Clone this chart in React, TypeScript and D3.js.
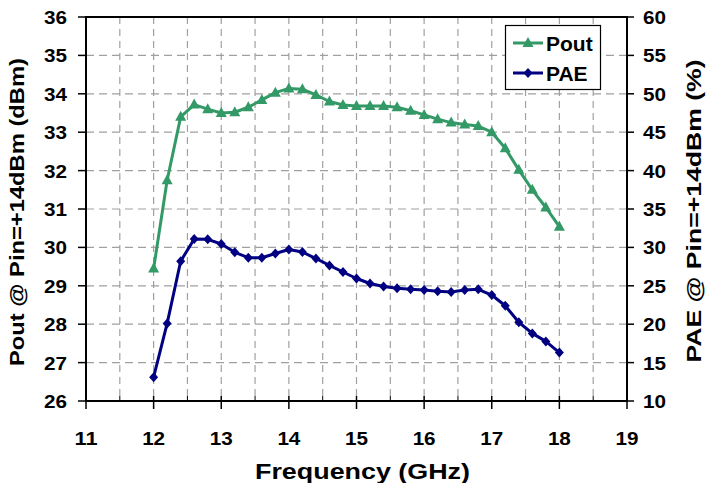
import { useEffect, useRef } from 'react';
import * as d3 from 'd3';

// frequency points (GHz)
const freq = [12, 12.2, 12.4, 12.6, 12.8, 13, 13.2, 13.4, 13.6, 13.8, 14, 14.2, 14.4, 14.6, 14.8, 15,
  15.2, 15.4, 15.6, 15.8, 16, 16.2, 16.4, 16.6, 16.8, 17, 17.2, 17.4, 17.6, 17.8, 18];

// Pout @ Pin=+14dBm (dBm)
const pout = [29.45, 31.75, 33.4, 33.72, 33.6, 33.5, 33.52, 33.65, 33.84, 34.03, 34.14, 34.12, 33.97,
  33.8, 33.71, 33.68, 33.68, 33.68, 33.65, 33.56, 33.45, 33.34, 33.25, 33.2, 33.16, 33.0, 32.58,
  32.02, 31.5, 31.04, 30.54];

// PAE @ Pin=+14dBm (%)
const pae = [13.1, 20.1, 28.2, 31.1, 31.05, 30.44, 29.36, 28.66, 28.66, 29.2, 29.72, 29.4, 28.55,
  27.65, 26.8, 25.95, 25.3, 24.9, 24.67, 24.54, 24.45, 24.3, 24.2, 24.45, 24.54, 23.8, 22.4, 20.25,
  18.8, 17.76, 16.3];

const xTicks = [11, 12, 13, 14, 15, 16, 17, 18, 19];
const xGrid = [11.5, 12.5, 13.5, 14.5, 15.5, 16.5, 17.5, 18.5];
const leftTicks = [26, 27, 28, 29, 30, 31, 32, 33, 34, 35, 36];
const rightTicks = [10, 15, 20, 25, 30, 35, 40, 45, 50, 55, 60];

const GREEN = '#339966';
const NAVY = '#000080';
const FONT = '"Liberation Sans", Arial, sans-serif';

const App = () => {
  const svgRef = useRef(null);

  useEffect(() => {
    const plot = { left: 86, right: 627, top: 17, bottom: 401 };

    const svg = d3.select(svgRef.current);
    svg.selectAll('*').remove();

    const x = d3.scaleLinear().domain([11, 19]).range([plot.left, plot.right]);
    const yL = d3.scaleLinear().domain([26, 36]).range([plot.bottom, plot.top]);
    const yR = d3.scaleLinear().domain([10, 60]).range([plot.bottom, plot.top]);

    // grid
    const grid = svg.append('g');
    grid.selectAll('line.vg')
      .data(xGrid.concat(xTicks.slice(1, -1)))
      .enter()
      .append('line')
      .attr('x1', (d) => x(d))
      .attr('x2', (d) => x(d))
      .attr('y1', plot.top)
      .attr('y2', plot.bottom)
      .attr('stroke', '#a0a0a0')
      .attr('stroke-width', 1.2)
      .attr('stroke-dasharray', '7,5');
    grid.selectAll('line.hg')
      .data(leftTicks.slice(1, -1))
      .enter()
      .append('line')
      .attr('x1', plot.left)
      .attr('x2', plot.right)
      .attr('y1', (d) => yL(d))
      .attr('y2', (d) => yL(d))
      .attr('stroke', '#a0a0a0')
      .attr('stroke-width', 1.2)
      .attr('stroke-dasharray', '8,5');

    // frame
    svg.append('rect')
      .attr('x', plot.left)
      .attr('y', plot.top)
      .attr('width', plot.right - plot.left)
      .attr('height', plot.bottom - plot.top)
      .attr('fill', 'none')
      .attr('stroke', '#000')
      .attr('stroke-width', 2);

    // left axis
    const left = svg.append('g');
    left.selectAll('line')
      .data(leftTicks)
      .enter()
      .append('line')
      .attr('x1', plot.left - 8)
      .attr('x2', plot.left)
      .attr('y1', (d) => yL(d))
      .attr('y2', (d) => yL(d))
      .attr('stroke', '#000')
      .attr('stroke-width', 1.5);
    left.selectAll('text')
      .data(leftTicks)
      .enter()
      .append('text')
      .attr('x', 67)
      .attr('y', (d) => yL(d) + 7)
      .attr('text-anchor', 'end')
      .attr('textLength', 23)
      .attr('lengthAdjust', 'spacingAndGlyphs')
      .text((d) => d);

    // right axis
    const right = svg.append('g');
    right.selectAll('line')
      .data(rightTicks)
      .enter()
      .append('line')
      .attr('x1', plot.right)
      .attr('x2', plot.right + 7)
      .attr('y1', (d) => yR(d))
      .attr('y2', (d) => yR(d))
      .attr('stroke', '#000')
      .attr('stroke-width', 1.5);
    right.selectAll('text')
      .data(rightTicks)
      .enter()
      .append('text')
      .attr('x', 643)
      .attr('y', (d) => yR(d) + 7)
      .attr('text-anchor', 'start')
      .attr('textLength', 23)
      .attr('lengthAdjust', 'spacingAndGlyphs')
      .text((d) => d);

    // x axis
    const bottom = svg.append('g');
    bottom.selectAll('line.major')
      .data(xTicks)
      .enter()
      .append('line')
      .attr('x1', (d) => x(d))
      .attr('x2', (d) => x(d))
      .attr('y1', plot.bottom - 5)
      .attr('y2', plot.bottom + 8)
      .attr('stroke', '#000')
      .attr('stroke-width', 1.5);
    bottom.selectAll('line.minor')
      .data(xGrid)
      .enter()
      .append('line')
      .attr('x1', (d) => x(d))
      .attr('x2', (d) => x(d))
      .attr('y1', plot.bottom - 5)
      .attr('y2', plot.bottom)
      .attr('stroke', '#000')
      .attr('stroke-width', 1);
    bottom.selectAll('text')
      .data(xTicks)
      .enter()
      .append('text')
      .attr('x', (d) => x(d))
      .attr('y', 445)
      .attr('text-anchor', 'middle')
      .attr('textLength', 23)
      .attr('lengthAdjust', 'spacingAndGlyphs')
      .text((d) => d);

    svg.selectAll('text')
      .style('font-family', FONT)
      .style('font-weight', 'bold')
      .style('font-size', '19px')
      .attr('fill', '#000');

    // titles
    const title = (tx, ty, rot, len, size, txt) => {
      svg.append('text')
        .attr('transform', `translate(${tx},${ty}) rotate(${rot})`)
        .attr('text-anchor', 'middle')
        .attr('textLength', len)
        .attr('lengthAdjust', 'spacingAndGlyphs')
        .style('font-family', FONT)
        .style('font-weight', 'bold')
        .style('font-size', size)
        .text(txt);
    };
    title(362.5, 479, 0, 215, '22px', 'Frequency (GHz)');
    title(24, 212, -90, 308, '21px', 'Pout @ Pin=+14dBm (dBm)');
    title(701, 211, -90, 303, '21px', 'PAE @ Pin=+14dBm (%)');

    // series
    const trianglePath = (cx, cy) =>
      `M${cx},${cy - 6}L${cx + 5.5},${cy + 4}L${cx - 5.5},${cy + 4}Z`;
    const diamondPath = (cx, cy) =>
      `M${cx},${cy - 5}L${cx + 4.5},${cy}L${cx},${cy + 5}L${cx - 4.5},${cy}Z`;

    const poutLine = d3.line()
      .x((i) => x(freq[i]))
      .y((i) => yL(pout[i]));
    const paeLine = d3.line()
      .x((i) => x(freq[i]))
      .y((i) => yR(pae[i]));
    const I = d3.range(freq.length);

    svg.append('path')
      .attr('d', poutLine(I))
      .attr('fill', 'none')
      .attr('stroke', GREEN)
      .attr('stroke-width', 3)
      .attr('stroke-linejoin', 'round');
    svg.append('g')
      .selectAll('path')
      .data(I)
      .enter()
      .append('path')
      .attr('d', (i) => trianglePath(x(freq[i]), yL(pout[i])))
      .attr('fill', GREEN);

    svg.append('path')
      .attr('d', paeLine(I))
      .attr('fill', 'none')
      .attr('stroke', NAVY)
      .attr('stroke-width', 3)
      .attr('stroke-linejoin', 'round');
    svg.append('g')
      .selectAll('path')
      .data(I)
      .enter()
      .append('path')
      .attr('d', (i) => diamondPath(x(freq[i]), yR(pae[i])))
      .attr('fill', NAVY);

    // legend
    const legend = svg.append('g');
    legend.append('rect')
      .attr('x', 505.5)
      .attr('y', 25.5)
      .attr('width', 95)
      .attr('height', 64)
      .attr('fill', '#fff')
      .attr('stroke', '#000')
      .attr('stroke-width', 1.2);
    const items = [
      { name: 'Pout', color: GREEN, y: 43, marker: trianglePath },
      { name: 'PAE', color: NAVY, y: 73, marker: diamondPath }
    ];
    items.forEach((it) => {
      legend.append('line')
        .attr('x1', 513)
        .attr('x2', 543)
        .attr('y1', it.y)
        .attr('y2', it.y)
        .attr('stroke', it.color)
        .attr('stroke-width', 3);
      legend.append('path')
        .attr('d', it.marker(528, it.y))
        .attr('fill', it.color);
      legend.append('text')
        .attr('x', 546)
        .attr('y', it.y + 8)
        .style('font-family', FONT)
        .style('font-weight', 'bold')
        .style('font-size', '21px')
        .text(it.name);
    });
  }, []);

  return (
    <svg
      ref={svgRef}
      width={708}
      height={483}
      style={{ position: 'absolute', left: 0, top: 0, background: '#fff' }}
    />
  );
};

export default App;
